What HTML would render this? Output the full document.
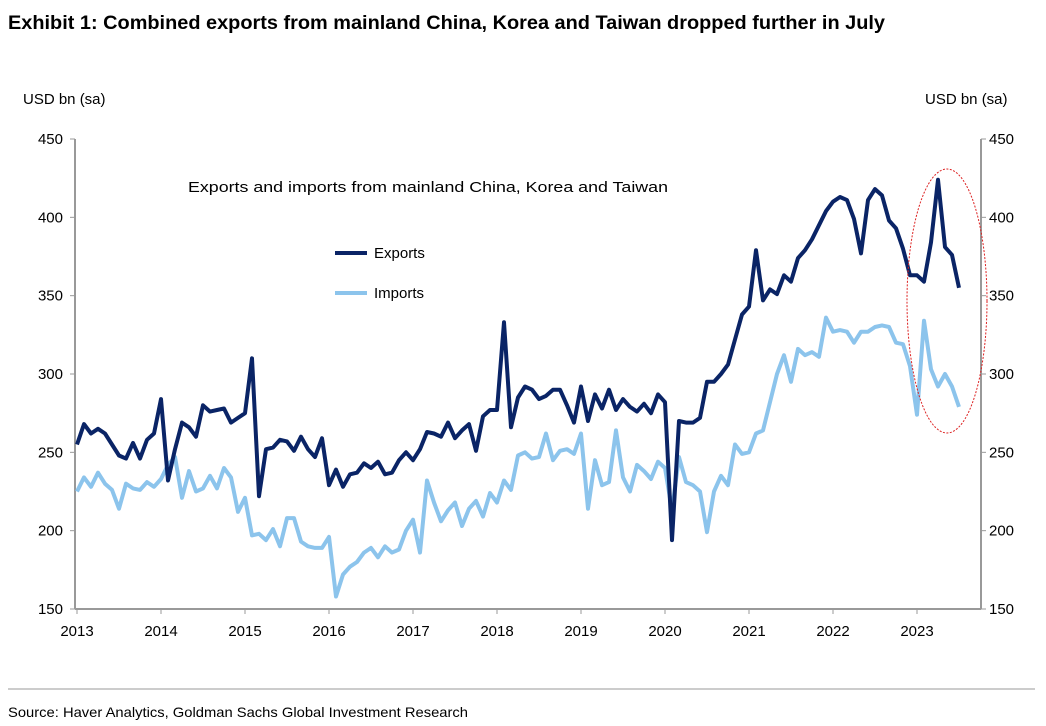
<!DOCTYPE html>
<html><head><meta charset="utf-8"><style>
body{margin:0;background:#fff;}
svg{display:block;font-family:"Liberation Sans",sans-serif;}
</style></head><body>
<svg id="chart" width="1046" height="726">
<text x="8" y="29" font-size="19" font-weight="bold" textLength="877" lengthAdjust="spacingAndGlyphs" fill="#000">Exhibit 1: Combined exports from mainland China, Korea and Taiwan dropped further in July</text>
<text x="23" y="104" font-size="15" fill="#000">USD bn (sa)</text>
<text x="925" y="104" font-size="15" fill="#000">USD bn (sa)</text>
<text x="188" y="192" font-size="15" textLength="480" lengthAdjust="spacingAndGlyphs" fill="#000">Exports and imports from mainland  China, Korea and Taiwan</text>
<g>
<line x1="335" y1="253" x2="367" y2="253" stroke="#0a2466" stroke-width="4"/>
<text x="374" y="258" font-size="15">Exports</text>
<line x1="335" y1="293" x2="367" y2="293" stroke="#8cc4ec" stroke-width="4"/>
<text x="374" y="298" font-size="15">Imports</text>
</g>
<g id="axes"></g>
<g id="series"></g>
<ellipse cx="947" cy="301" rx="40" ry="132" fill="none" stroke="#d22" stroke-width="1" stroke-dasharray="2,1.5"/>
<line x1="8" y1="689" x2="1035" y2="689" stroke="#999" stroke-width="1"/>
<text x="8" y="717" font-size="14" textLength="460" lengthAdjust="spacingAndGlyphs" fill="#000">Source: Haver Analytics, Goldman Sachs Global Investment Research</text>
</svg>
<script>
const yearLabels=["2013","2014","2015","2016","2017","2018","2019","2020","2021","2022","2023"];
const yTicks=[150,200,250,300,350,400,450];
const exportsData=[
255,268,262,265,262,255,248,246,256,246,258,262,
284,232,252,269,266,260,280,276,277,278,269,272,
275,310,222,252,253,258,257,251,260,252,247,259,
229,239,228,236,237,243,240,244,236,237,245,250,
245,252,263,262,260,269,259,264,268,251,273,277,
277,333,266,285,292,290,284,286,290,290,280,269,
292,270,287,278,290,277,284,279,276,281,275,287,
282,194,270,269,269,272,295,295,300,306,322,338,
343,379,347,354,351,363,359,374,379,386,395,404,
410,413,411,399,377,411,418,414,398,393,380,363,
363,359,384,424,381,376,355];
const importsData=[
225,234,228,237,230,226,214,230,227,226,231,228,
233,242,247,221,238,225,227,235,227,240,234,212,
221,197,198,194,201,190,208,208,193,190,189,189,
196,158,172,177,180,186,189,183,190,186,188,200,
207,186,232,218,206,213,218,203,214,219,209,224,
218,232,226,248,250,246,247,262,245,251,252,249,
262,214,245,229,231,264,234,225,242,238,233,244,
240,213,247,231,229,225,199,225,235,229,255,249,
250,262,264,282,300,312,295,316,312,314,311,336,
327,328,327,320,327,327,330,331,330,320,319,305,
274,334,303,292,300,292,279];
const NS="http://www.w3.org/2000/svg";
const x0=77,pxYear=84,yTop=139,yBot=609,yMin=150,yMax=450,axL=75,axR=981;
function xScale(i){return x0+i*pxYear/12;}
function yScale(v){return yBot-(v-yMin)/(yMax-yMin)*(yBot-yTop);}
function mk(tag,attrs,parent){const e=document.createElementNS(NS,tag);for(const k in attrs)e.setAttribute(k,attrs[k]);parent.appendChild(e);return e;}
const ax=document.getElementById('axes');
let l=mk('line',{x1:axL,y1:yTop,x2:axL,y2:yBot,stroke:'#999','stroke-width':2},ax);


l=mk('line',{x1:axR,y1:yTop,x2:axR,y2:yBot,stroke:'#999','stroke-width':2},ax);


l=mk('line',{x1:axL,y1:yBot,x2:axR,y2:yBot,stroke:'#999','stroke-width':2},ax);


yTicks.forEach(v=>{
  const y=yScale(v);
  let t=mk('line',{x1:axL-5,y1:y,x2:axL,y2:y,stroke:'#999','stroke-width':1},ax);
  
  
  t=mk('line',{x1:axR,y1:y,x2:axR+5,y2:y,stroke:'#999','stroke-width':1},ax);
  
  
  let tx=mk('text',{x:63,y:y+5,'font-size':15,'text-anchor':'end'},ax);tx.textContent=v;
  
  
  tx=mk('text',{x:989,y:y+5,'font-size':15},ax);tx.textContent=v;
  
  
});
yearLabels.forEach((lab,i)=>{
  const x=xScale(i*12);
  let t=mk('line',{x1:x,y1:yBot,x2:x,y2:yBot+5,stroke:'#999','stroke-width':1},ax);
  
  
  const tx=mk('text',{x:x,y:636,'font-size':15,'text-anchor':'middle'},ax);tx.textContent=lab;
  
  
});
const sg=document.getElementById('series');
function line(data,color,name){
  const d=data.map((v,i)=>(i?'L':'M')+xScale(i).toFixed(1)+','+yScale(v).toFixed(1)).join('');
  const p=mk('path',{d:d,fill:'none',stroke:color,'stroke-width':4,'stroke-linejoin':'round'},sg);
  
  
}
line(importsData,'#8cc4ec','imports-line');
line(exportsData,'#0a2466','exports-line');
</script>
</body></html>
